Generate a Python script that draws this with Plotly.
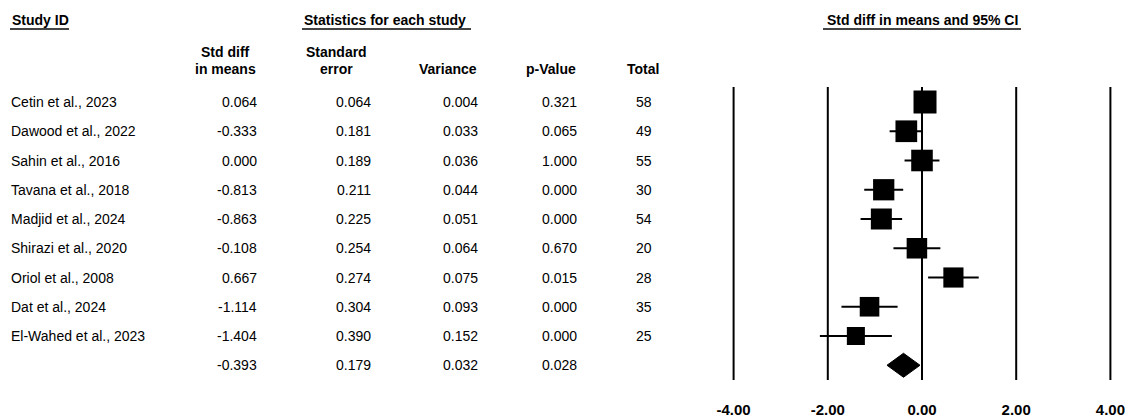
import numpy as np
import plotly.graph_objects as go

# ---- study-level data -------------------------------------------------------
studies = [
    "Cetin et al., 2023",
    "Dawood et al., 2022",
    "Sahin et al., 2016",
    "Tavana et al., 2018",
    "Madjid et al., 2024",
    "Shirazi et al., 2020",
    "Oriol et al., 2008",
    "Dat et al., 2024",
    "El-Wahed et al., 2023",
]
std_diff = [0.064, -0.333, 0.000, -0.813, -0.863, -0.108, 0.667, -1.114, -1.404]
std_err = [0.064, 0.181, 0.189, 0.211, 0.225, 0.254, 0.274, 0.304, 0.390]
variance = [0.004, 0.033, 0.036, 0.044, 0.051, 0.064, 0.075, 0.093, 0.152]
p_value = [0.321, 0.065, 1.000, 0.000, 0.000, 0.670, 0.015, 0.000, 0.000]
total_n = [58, 49, 55, 30, 54, 20, 28, 35, 25]

# ---- pooled (random effects) summary ---------------------------------------
pooled_diff = -0.393
pooled_se = 0.179
pooled_var = 0.032
pooled_p = 0.028

axis_ticks = [-4.0, -2.0, 0.0, 2.0, 4.0]

# ---- canvas geometry --------------------------------------------------------
W, H = 1128, 419
MB = 30                      # bottom margin holding the axis labels
PLOT_H = H - MB
ZERO_PX, PX_PER_UNIT = 922.0, 47.1
ROW0_PX, ROW_STEP = 102.0, 29.25
Z = 1.96

n = len(studies)
summary_row = n

def xp(px):
    return px / W

def yp(py):
    return (PLOT_H - py) / PLOT_H

# random-effects weights (DerSimonian-Laird) set the square sizes
y = np.array(std_diff)
v = np.array(variance)
w = 1.0 / v
m_fixed = np.sum(w * y) / np.sum(w)
Q = np.sum(w * (y - m_fixed) ** 2)
C = np.sum(w) - np.sum(w ** 2) / np.sum(w)
tau2 = max(0.0, (Q - (n - 1)) / C)
w_re = 1.0 / (v + tau2)
sizes = 23.0 * np.sqrt(w_re / w_re.max())

rows = list(range(n))
FONT_BODY = "Arial, 'Liberation Sans', sans-serif"
FONT_HEAD = "'Arial Narrow', 'Liberation Sans', Arial, sans-serif"
HEAD_SIZE = 14

fig = go.Figure()

# study squares with 95% CI whiskers
fig.add_trace(go.Scatter(
    x=std_diff, y=rows, mode="markers",
    marker=dict(symbol="square", size=sizes, color="black", opacity=1,
                line=dict(width=0)),
    error_x=dict(type="data", array=[Z * s for s in std_err], symmetric=True,
                 width=0, thickness=2, color="black"),
    hoverinfo="skip", showlegend=False,
))

# pooled diamond
lo, hi = pooled_diff - Z * pooled_se, pooled_diff + Z * pooled_se
half_h = 12.0 / ROW_STEP
fig.add_trace(go.Scatter(
    x=[lo, pooled_diff, hi, pooled_diff, lo],
    y=[summary_row, summary_row - half_h, summary_row, summary_row + half_h, summary_row],
    mode="lines", fill="toself", fillcolor="black",
    line=dict(color="black", width=1),
    hoverinfo="skip", showlegend=False,
))

# vertical reference lines at each tick
for t in axis_ticks:
    fig.add_shape(type="line", xref="x", yref="y", x0=t, x1=t,
                  y0=-0.51, y1=summary_row + 0.5,
                  line=dict(color="black", width=2), layer="below")

annotations = []

def txt(text, x, yv, anchor="left", yref="y", font=FONT_BODY, size=14, bold=False):
    annotations.append(dict(
        text=f"<b>{text}</b>" if bold else text,
        x=x, y=yv, xref="paper", yref=yref,
        xanchor=anchor, yanchor="middle", showarrow=False, borderpad=0,
        font=dict(family=font, size=size, color="black"),
    ))

# section titles (underlined)
txt("Study ID", xp(11), yp(20), "left", "paper", FONT_HEAD, HEAD_SIZE, True)
txt("Statistics for each study", xp(303), yp(20), "left", "paper", FONT_HEAD, HEAD_SIZE, True)
txt("Std diff in means and 95% CI", xp(922), yp(20), "center", "paper", FONT_HEAD, HEAD_SIZE, True)
for x0, x1 in [(10, 69), (302, 471), (823, 1021)]:
    fig.add_shape(type="line", xref="paper", yref="paper",
                  x0=xp(x0), x1=xp(x1), y0=yp(29), y1=yp(29),
                  line=dict(color="#444444", width=2))

# column headers
txt("Std diff", xp(225.5), yp(52), "center", "paper", FONT_HEAD, HEAD_SIZE, True)
txt("in means", xp(225.5), yp(69), "center", "paper", FONT_HEAD, HEAD_SIZE, True)
txt("Standard", xp(336), yp(52), "center", "paper", FONT_HEAD, HEAD_SIZE, True)
txt("error", xp(336), yp(69), "center", "paper", FONT_HEAD, HEAD_SIZE, True)
txt("Variance", xp(447.5), yp(69), "center", "paper", FONT_HEAD, HEAD_SIZE, True)
txt("p-Value", xp(551), yp(69), "center", "paper", FONT_HEAD, HEAD_SIZE, True)
txt("Total", xp(642.5), yp(69), "center", "paper", FONT_HEAD, HEAD_SIZE, True)

# table body
for i in range(n):
    txt(studies[i], xp(10), i, "left")
    txt(f"{std_diff[i]:.3f}", xp(258), i, "right")
    txt(f"{std_err[i]:.3f}", xp(372), i, "right")
    txt(f"{variance[i]:.3f}", xp(479), i, "right")
    txt(f"{p_value[i]:.3f}", xp(578), i, "right")
    txt(f"{total_n[i]}", xp(635), i, "left")

txt(f"{pooled_diff:.3f}", xp(258), summary_row, "right")
txt(f"{pooled_se:.3f}", xp(372), summary_row, "right")
txt(f"{pooled_var:.3f}", xp(479), summary_row, "right")
txt(f"{pooled_p:.3f}", xp(578), summary_row, "right")

fig.update_layout(
    width=W, height=H,
    margin=dict(l=0, r=0, t=0, b=MB, pad=0),
    paper_bgcolor="white", plot_bgcolor="white",
    annotations=annotations,
    xaxis=dict(
        range=[-ZERO_PX / PX_PER_UNIT, (W - ZERO_PX) / PX_PER_UNIT],
        tickvals=axis_ticks, ticktext=[f"<b>{t:.2f}</b>" for t in axis_ticks],
        tickfont=dict(family=FONT_BODY, size=15, color="black"),
        ticks="", showgrid=False, zeroline=False, showline=False,
        ticklabelstandoff=10, fixedrange=True,
    ),
    yaxis=dict(
        range=[(PLOT_H - ROW0_PX) / ROW_STEP, -ROW0_PX / ROW_STEP],
        visible=False, fixedrange=True,
    ),
)

fig.write_html("out.html")
